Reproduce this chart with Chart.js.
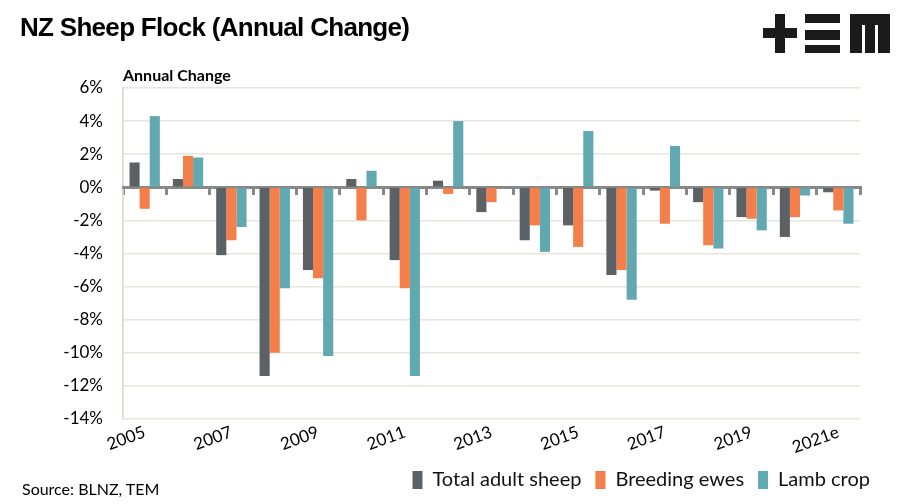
<!DOCTYPE html>
<html>
<head>
<meta charset="utf-8">
<script src="https://cdn.jsdelivr.net/npm/chart.js@4"></script>
<style>
  body { margin: 0; background: #fff; }
  #wrap { position: relative; width: 904px; height: 504px; }
  #title { position: absolute; left: 20px; top: 12px; font: bold 26px "Liberation Sans", Arial, sans-serif; color: #000; letter-spacing: -0.7px; }
  #sub { position: absolute; left: 123px; top: 65px; font: bold 16px Lato, sans-serif; color: #000; }
  #source { position: absolute; left: 22px; top: 479px; font: 16px Lato, sans-serif; color: #000; }
  #logo { position: absolute; left: 760px; top: 10px; }
</style>
</head>
<body>
<div id="wrap">
  <canvas id="sheepChart" width="904" height="504"></canvas>
  <div id="title">NZ Sheep Flock (Annual Change)</div>
  <div id="sub">Annual Change</div>
  <div id="source">Source: BLNZ, TEM</div>
  <svg id="logo" width="135" height="50" viewBox="760 10 135 50">
    <rect x="763" y="28" width="34" height="10" fill="#1a1a1a"/>
    <rect x="775" y="14" width="10" height="39" fill="#1a1a1a"/>
    <rect x="805" y="14" width="35" height="9" fill="#1a1a1a"/>
    <rect x="805" y="30" width="35" height="10" fill="#1a1a1a"/>
    <rect x="805" y="45" width="35" height="8" fill="#1a1a1a"/>
    <rect x="850" y="14" width="40" height="11" fill="#1a1a1a"/>
    <rect x="850" y="14" width="12" height="39" fill="#1a1a1a"/>
    <rect x="865" y="14" width="10" height="39" fill="#1a1a1a"/>
    <rect x="878" y="14" width="12" height="39" fill="#1a1a1a"/>
  </svg>
</div>
<script>
const years = ['2005', '2006', '2007', '2008', '2009', '2010', '2011', '2012', '2013',
               '2014', '2015', '2016', '2017', '2018', '2019', '2020', '2021e'];
const totalAdult = [1.5, 0.5, -4.1, -11.4, -5.0, 0.5, -4.4, 0.4, -1.5, -3.2, -2.3, -5.3, -0.2, -0.9, -1.8, -3.0, -0.3];
const breedingEwes = [-1.3, 1.9, -3.2, -10.0, -5.5, -2.0, -6.1, -0.4, -0.9, -2.3, -3.6, -5.0, -2.2, -3.5, -1.9, -1.8, -1.4];
const lambCrop = [4.3, 1.8, -2.4, -6.1, -10.2, 1.0, -11.4, 4.0, 0, -3.9, 3.4, -6.8, 2.5, -3.7, -2.6, -0.5, -2.2];
const yTicks = [6, 4, 2, 0, -2, -4, -6, -8, -10, -12, -14];

const beige = '#dcdccb';
const gridCol = '#e6e6dc';
const font = 'Lato, sans-serif';

new Chart(document.getElementById('sheepChart').getContext('2d'), {
    type: 'bar',
    data: {
        labels: years,
        datasets: [
            { label: 'Total adult sheep', data: totalAdult, backgroundColor: '#5b6164' },
            { label: 'Breeding ewes', data: breedingEwes, backgroundColor: '#f47f4a' },
            { label: 'Lamb crop', data: lambCrop, backgroundColor: '#62a8b1' }
        ]
    },
    options: {
        responsive: false,
        animation: false,
        layout: { padding: { top: 88, right: 20, left: 0, bottom: 4 } },
        datasets: { bar: { barPercentage: 1.0, categoryPercentage: 0.7 } },
        scales: {
            y: {
                min: yTicks[yTicks.length - 1],
                max: yTicks[0],
                afterFit: s => { s.width = 123; },
                afterBuildTicks: s => { s.ticks = yTicks.map(v => ({ value: v })); },
                ticks: { padding: 20, color: '#000', font: { family: font, size: 17 }, callback: v => v + '%' },
                grid: { color: gridCol, lineWidth: 1.5, drawTicks: false },
                border: { color: beige, width: 1.5 }
            },
            // empty right axis only to keep room between plot edge and legend edge
            yr: {
                position: 'right',
                afterFit: s => { s.width = 24; },
                ticks: { display: false },
                grid: { display: false },
                border: { display: false }
            },
            x: {
                position: { y: 0 },
                offset: true,
                ticks: { display: false },
                grid: { drawOnChartArea: false, drawTicks: true, tickLength: 6, color: '#888', lineWidth: 3, offset: true },
                border: { color: '#888', width: 3 }
            },
            xl: {
                type: 'category',
                position: 'bottom',
                offset: true,
                afterFit: s => { s.height = 37; },
                ticks: {
                    autoSkip: false, minRotation: 20, maxRotation: 20, padding: 3,
                    color: '#000', font: { family: font, size: 17 },
                    callback: function (v, i) { return i % 2 === 0 ? this.getLabelForValue(v) : ''; }
                },
                grid: {
                    drawTicks: false, offset: true, lineWidth: 1.5,
                    color: c => (c.index === 0 || c.index === years.length) ? beige : 'rgba(0,0,0,0)'
                },
                border: { display: false }
            }
        },
        plugins: {
            legend: {
                position: 'bottom',
                align: 'end',
                labels: { boxWidth: 10, boxHeight: 18, padding: 14, color: '#111', font: { family: font, size: 20 } }
            },
            tooltip: { enabled: false }
        }
    }
});
</script>
</body>
</html>
